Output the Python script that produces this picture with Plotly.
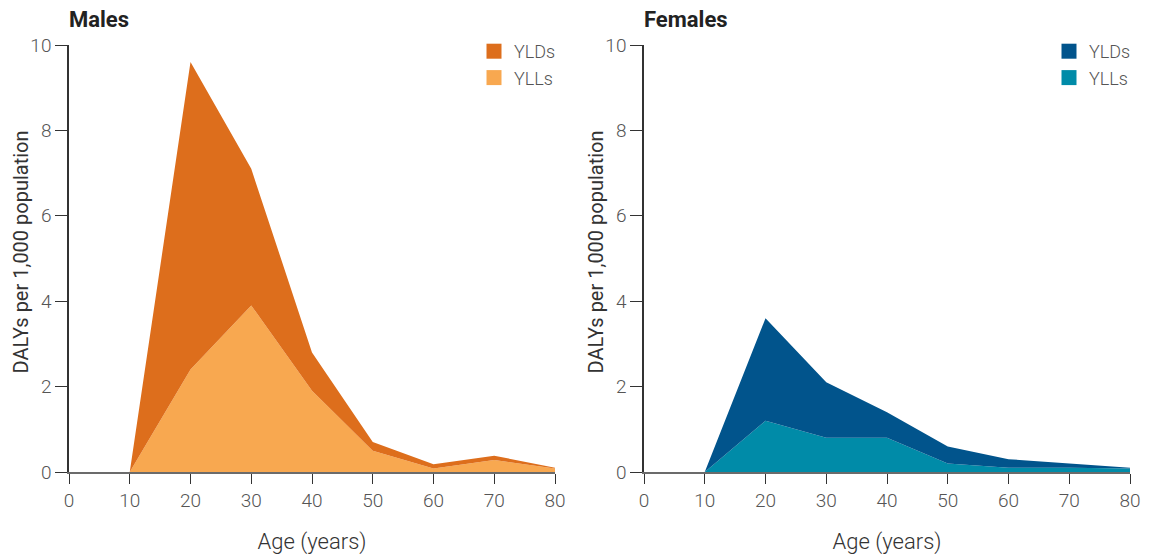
import plotly.graph_objects as go
from plotly.subplots import make_subplots

# Age groups (years)
ages = [0, 10, 20, 30, 40, 50, 60, 70, 80]

# DALYs per 1,000 population, split into components (stacked)
male_ylls = [0, 0, 2.4, 3.9, 1.9, 0.5, 0.08, 0.28, 0.08]
male_ylds = [0, 0, 7.2, 3.2, 0.9, 0.2, 0.1, 0.1, 0.02]
female_ylls = [0, 0, 1.2, 0.8, 0.8, 0.2, 0.1, 0.1, 0.08]
female_ylds = [0, 0, 2.4, 1.3, 0.6, 0.4, 0.2, 0.1, 0.02]

panel_titles = ["Males", "Females"]
series_names = ["YLDs", "YLLs"]
x_ticks = [0, 10, 20, 30, 40, 50, 60, 70, 80]
y_ticks = [0, 2, 4, 6, 8, 10]
y_title = "DALYs per 1,000 population"

male_colors = {"YLDs": "#DD6E1C", "YLLs": "#F8A850"}
female_colors = {"YLDs": "#01548C", "YLLs": "#008BA8"}

FONT = "Roboto, Noto Sans, sans-serif"
TEXT = "#555555"

W, H = 1152, 555
fig = make_subplots(rows=1, cols=2)

panels = [
    (1, male_ylls, male_ylds, male_colors, "legend", "m"),
    (2, female_ylls, female_ylds, female_colors, "legend2", "f"),
]

for col, ylls, ylds, colors, legend_id, grp in panels:
    # stacked filled areas: YLLs at the bottom, YLDs on top
    fig.add_trace(go.Scatter(
        x=ages, y=ylls, mode="lines", stackgroup=grp,
        line=dict(width=0, color=colors["YLLs"]), fillcolor=colors["YLLs"],
        showlegend=False, hoverinfo="x+y", name="YLLs"), row=1, col=col)
    fig.add_trace(go.Scatter(
        x=ages, y=ylds, mode="lines", stackgroup=grp,
        line=dict(width=0, color=colors["YLDs"]), fillcolor=colors["YLDs"],
        showlegend=False, hoverinfo="x+y", name="YLDs"), row=1, col=col)
    # square legend swatches
    for name in series_names:
        fig.add_trace(go.Scatter(
            x=[None], y=[None], mode="markers", name=name,
            marker=dict(symbol="square", size=15, color=colors[name]),
            legend=legend_id, legendgroup=grp + name, showlegend=True),
            row=1, col=col)

x_domains = [[69 / W, 555 / W], [644 / W, 1130 / W]]
y_domain = [(H - 472) / H, (H - 45) / H]

axis_common = dict(
    showgrid=False, zeroline=False, showline=True, automargin=False,
    ticks="outside", tickcolor="#333", tickwidth=1.3,
    tickfont=dict(family=FONT, size=19, color=TEXT, weight=300),
)

for i, col in enumerate([1, 2]):
    fig.update_xaxes(
        range=[0, 80], tickvals=x_ticks, ticklen=10,
        linecolor="#6b6b6b", linewidth=1.5,
        domain=x_domains[i],
        title=dict(text="Age (years)",
                   font=dict(family=FONT, size=22, color="#333", weight=300),
                   standoff=28),
        **axis_common, row=1, col=col)
    fig.update_yaxes(
        range=[0, 10], tickvals=y_ticks, ticklen=12,
        linecolor="#333", linewidth=1.5,
        domain=y_domain,
        **axis_common, row=1, col=col)

for i, t in enumerate(panel_titles):
    # panel heading
    fig.add_annotation(
        text="<b>" + t + "</b>", xref="paper", yref="paper",
        x=x_domains[i][0] - 2 / W, y=1 - 5 / H, xanchor="left", yanchor="top",
        showarrow=False, font=dict(family=FONT, size=22, color="#222"))
    # vertical y-axis title, placed beside the tick labels
    fig.add_annotation(
        text=y_title, textangle=-90, xref="paper", yref="paper",
        x=x_domains[i][0] - 49 / W, y=(y_domain[0] + y_domain[1]) / 2 + 6 / H,
        xanchor="center", yanchor="middle", showarrow=False,
        font=dict(family=FONT, size=20, color="#333"))

legend_style = dict(
    font=dict(family=FONT, size=18, color=TEXT, weight=300),
    bgcolor="rgba(0,0,0,0)", xanchor="left", yanchor="top",
    traceorder="grouped", tracegroupgap=0, itemclick=False,
)
fig.update_layout(
    width=W, height=H,
    margin=dict(l=0, r=0, t=0, b=0),
    paper_bgcolor="white", plot_bgcolor="white",
    legend=dict(x=474 / W, y=1 - 33 / H, **legend_style),
    legend2=dict(x=1049 / W, y=1 - 33 / H, **legend_style),
    font=dict(family=FONT),
)

fig.write_html("out.html")
